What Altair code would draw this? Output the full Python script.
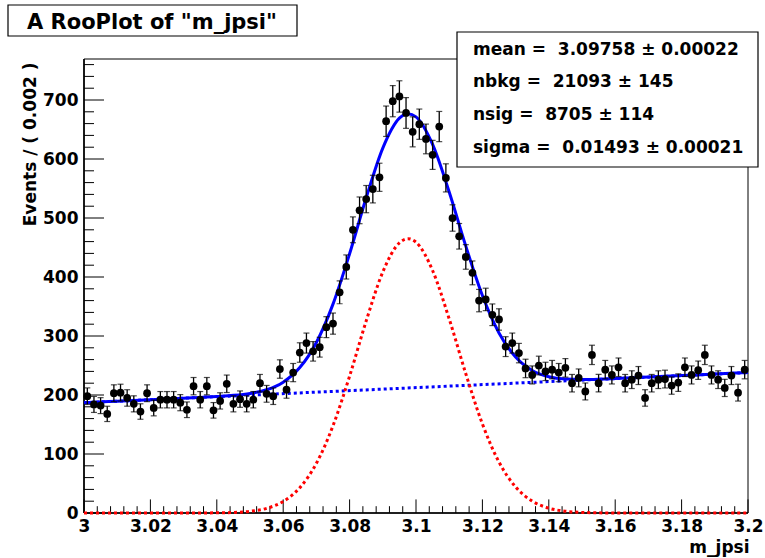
import altair as alt
import pandas as pd

# ---------------- data ----------------
X_EDGES = [3.0, 3.2]
BIN_WIDTH = 0.002
COUNTS = [198, 184, 182, 168, 203, 204, 195, 185, 172, 203,
          178, 192, 192, 192, 187, 175, 215, 192, 215, 174,
          190, 219, 185, 193, 185, 192, 220, 202, 198, 244,
          209, 238, 272, 288, 274, 281, 315, 321, 374, 417,
          480, 513, 532, 549, 569, 664, 698, 706, 678, 646,
          659, 634, 607, 655, 568, 500, 469, 434, 407, 360,
          362, 336, 328, 282, 288, 271, 245, 234, 250, 240,
          243, 238, 246, 220, 229, 206, 268, 220, 243, 234,
          247, 220, 226, 233, 195, 220, 226, 227, 216, 221,
          247, 234, 242, 268, 234, 226, 212, 233, 204, 243]
BIN_CENTERS = [round(X_EDGES[0] + BIN_WIDTH * (i + 0.5), 4) for i in range(len(COUNTS))]

CURVE_X = [3.0, 3.01, 3.02, 3.03,
           3.04, 3.045, 3.05, 3.055, 3.06, 3.065, 3.07, 3.075, 3.08, 3.085, 3.09, 3.095,
           3.0976,
           3.1, 3.105, 3.11, 3.115, 3.12, 3.125, 3.13, 3.135, 3.14, 3.145, 3.15, 3.155, 3.16,
           3.17, 3.18, 3.19, 3.2]
TOTAL_Y = [187, 189.6, 192.1, 194.7,
           197.5, 199.4, 202.7, 208.9, 221.8, 246.5, 289.1, 354.0, 439.4, 534.3, 618.5, 669.2,
           676.9,
           671.5, 624.8, 544.1, 452.3, 368.6, 305.2, 264.3, 241.6, 230.9, 227.0, 226.3, 226.8, 227.8,
           230.4, 232.9, 235.5, 238]
SIGNAL_Y = [0, 0, 0, 0,
            0.3, 0.9, 2.9, 7.9, 19.5, 42.9, 84.2, 147.9, 232, 325.6, 408.5, 458,
            465,
            459, 411, 329, 236, 151, 86.3, 44.1, 20.2, 8.2, 3.0, 1.0, 0.3, 0,
            0, 0, 0, 0]
BKG_X = [3.0, 3.2]
BKG_Y = [187, 238]

X_TICKS = [3.0, 3.02, 3.04, 3.06, 3.08, 3.1, 3.12, 3.14, 3.16, 3.18, 3.2]
X_MINOR = [3.004, 3.008, 3.012, 3.016, 3.024, 3.028, 3.032, 3.036, 3.044, 3.048, 3.052, 3.056,
           3.064, 3.068, 3.072, 3.076, 3.084, 3.088, 3.092, 3.096, 3.104, 3.108, 3.112, 3.116,
           3.124, 3.128, 3.132, 3.136, 3.144, 3.148, 3.152, 3.156, 3.164, 3.168, 3.172, 3.176,
           3.184, 3.188, 3.192, 3.196]
Y_TICKS = [0, 100, 200, 300, 400, 500, 600, 700]
Y_MINOR = [20, 40, 60, 80, 120, 140, 160, 180, 220, 240, 260, 280, 320, 340, 360, 380,
           420, 440, 460, 480, 520, 540, 560, 580, 620, 640, 660, 680, 720, 740, 760]
Y_MAX = 769.5

TITLE = 'A RooPlot of "m_jpsi"'
X_TITLE = "m_jpsi"
Y_TITLE = "Events / ( 0.002 )"
NB = "\u00a0"
STATS_LINES = ["mean =" + NB + NB + "3.09758 \u00b1 0.00022",
               "nbkg =" + NB + NB + "21093 \u00b1 145",
               "nsig =" + NB + NB + "8705 \u00b1 114",
               "sigma =" + NB + NB + "0.01493 \u00b1 0.00021"]

# ---------------- chart ----------------
W, H = 664, 454
FONT = "DejaVu Sans"

xs = alt.Scale(domain=X_EDGES, nice=False, zero=False)
ys = alt.Scale(domain=[0, Y_MAX], nice=False, zero=False)

xaxis = alt.Axis(values=X_TICKS, labelExpr="format(datum.value, '.2~f')",
                 ticks=False, tickSize=0, domain=False, grid=False,
                 labelFont=FONT, labelFontSize=17, labelFontWeight="bold", labelColor="black",
                 labelPadding=5, labelFlush=False, labelOverlap=False,
                 title=X_TITLE, titleFont=FONT, titleFontSize=17, titleFontWeight="bold",
                 titleColor="black", titleAlign="right", titleAnchor="end",
                 titleX=W + 1, titleY=39, titleBaseline="alphabetic")
yaxis = alt.Axis(values=Y_TICKS, format="d",
                 ticks=False, tickSize=0, domain=False, grid=False,
                 labelFont=FONT, labelFontSize=17, labelFontWeight="bold", labelColor="black",
                 labelPadding=6, labelFlush=False, labelOverlap=False,
                 title=Y_TITLE, titleFont=FONT, titleFontSize=17, titleFontWeight="bold",
                 titleColor="black", titleAngle=270, titleAlign="right", titleAnchor="end",
                 titleX=-49, titleY=3, titleBaseline="alphabetic")


def X(field):
    return alt.X(field, type="quantitative", scale=xs, axis=xaxis)


def Y(field):
    return alt.Y(field, type="quantitative", scale=ys, axis=yaxis)


one = alt.Data(values=[{"k": 1}])

df = pd.DataFrame({"m": BIN_CENTERS, "n": COUNTS})
curves = pd.DataFrame({"m": CURVE_X, "tot": TOTAL_Y, "sig": SIGNAL_Y})
bkg = pd.DataFrame({"m": BKG_X, "b": BKG_Y})

frame = alt.Chart(one).mark_rect(fill="white", fillOpacity=0, stroke="black", strokeWidth=1).encode(
    x=alt.value(0), x2=alt.value(W), y=alt.value(0), y2=alt.value(H))
yline = alt.Chart(one).mark_rule(color="black", strokeWidth=1.6).encode(
    x=alt.value(0), y=alt.value(0), y2=alt.value(H))
xline = alt.Chart(one).mark_rule(color="black", strokeWidth=1.6).encode(
    x=alt.value(0), x2=alt.value(W), y=alt.value(H))

xmaj = alt.Chart(pd.DataFrame({"t": X_TICKS})).mark_rule(color="black", strokeWidth=1).encode(
    x=X("t"), y=alt.value(H), y2=alt.value(H - 13.6))
xmin = alt.Chart(pd.DataFrame({"t": X_MINOR})).mark_rule(color="black", strokeWidth=1).encode(
    x=X("t"), y=alt.value(H), y2=alt.value(H - 6.8))
ymaj = alt.Chart(pd.DataFrame({"t": Y_TICKS})).mark_rule(color="black", strokeWidth=1).encode(
    y=Y("t"), x=alt.value(0), x2=alt.value(20))
ymin = alt.Chart(pd.DataFrame({"t": Y_MINOR})).mark_rule(color="black", strokeWidth=1).encode(
    y=Y("t"), x=alt.value(0), x2=alt.value(10))

bkg_line = alt.Chart(bkg).mark_line(color="#0000ff", strokeWidth=3, strokeDash=[3, 3]).encode(
    x=X("m"), y=Y("b"))
sig_line = alt.Chart(curves).mark_line(color="#ff0000", strokeWidth=3, strokeDash=[3, 3],
                                       interpolate="monotone").encode(x=X("m"), y=Y("sig"))
tot_line = alt.Chart(curves).mark_line(color="#0000ff", strokeWidth=3,
                                       interpolate="monotone").encode(x=X("m"), y=Y("tot"))

err_base = alt.Chart(df).transform_calculate(
    lo="datum.n - sqrt(datum.n)", hi="datum.n + sqrt(datum.n)")
err = err_base.mark_rule(color="black", strokeWidth=1.3).encode(x=X("m"), y=Y("lo"), y2="hi:Q")
cap_lo = err_base.mark_tick(color="black", thickness=1.2, size=6, orient="horizontal").encode(
    x=X("m"), y=Y("lo"))
cap_hi = err_base.mark_tick(color="black", thickness=1.2, size=6, orient="horizontal").encode(
    x=X("m"), y=Y("hi"))
pts = alt.Chart(df).mark_circle(color="black", size=60, opacity=1).encode(x=X("m"), y=Y("n"))

title_box = alt.Chart(one).mark_rect(fill="white", stroke="black", strokeWidth=1.2).encode(
    x=alt.value(-76), x2=alt.value(213), y=alt.value(-54), y2=alt.value(-23))
title_txt = alt.Chart(one).mark_text(font=FONT, fontSize=21, fontWeight="bold", color="black",
                                     align="center", baseline="alphabetic").encode(
    x=alt.value(68), y=alt.value(-30.5), text=alt.value(TITLE))

stats_box = alt.Chart(one).mark_rect(fill="white", stroke="black", strokeWidth=1.2).encode(
    x=alt.value(373), x2=alt.value(674), y=alt.value(-27), y2=alt.value(108))
stats_txt = alt.Chart(one).mark_text(font=FONT, fontSize=17, fontWeight="bold", color="black",
                                     align="left", baseline="alphabetic", lineBreak="\n",
                                     lineHeight=32.8).encode(
    x=alt.value(389), y=alt.value(-4.5), text=alt.value("\n".join(STATS_LINES)))

chart = alt.layer(
    frame, yline, xline, xmin, xmaj, ymin, ymaj, bkg_line, sig_line, tot_line,
    err, cap_lo, cap_hi, pts, title_box, title_txt, stats_box, stats_txt
).properties(
    width=W, height=H, autosize="none",
    padding={"left": 84, "top": 59, "right": 765 - 84 - W, "bottom": 558 - 59 - H},
    background="white"
).configure_view(stroke=None)

chart.save("out.html", embed_options={"renderer": "svg", "actions": False})
